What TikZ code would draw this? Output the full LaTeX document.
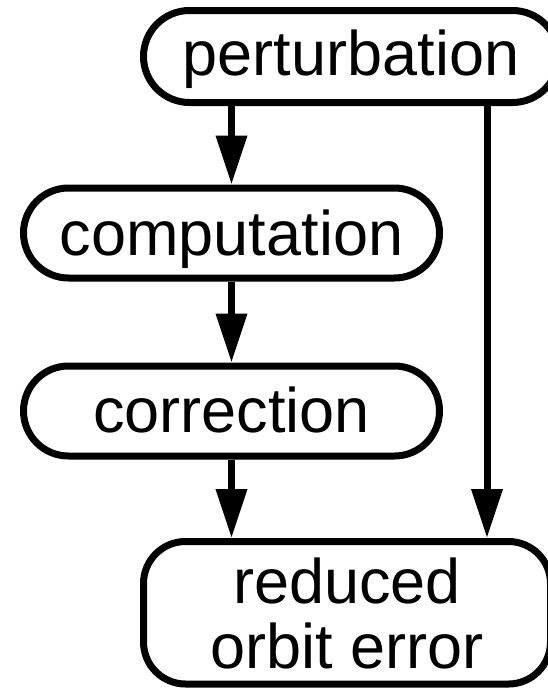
\documentclass[tikz,border=0pt]{standalone}
\usepackage{fontspec}
\setmainfont{Liberation Sans}
\usetikzlibrary{arrows.meta,calc}
\begin{document}
\begin{tikzpicture}[x=1pt,y=-1pt,
  box/.style={draw,line width=7pt,inner sep=0pt,text depth=0pt,
    font=\fontsize{63}{65}\selectfont,align=center},
  arr/.style={line width=7pt,-{Triangle[length=49pt,width=30pt]}}]
\useasboundingbox (0,0) rectangle (547,688);
% process boxes
\node[box,minimum width=415pt,minimum height=92pt,rounded corners=46pt,text height=37pt]
  (pert) at (351,56.5) {perturbation};
\node[box,minimum width=416pt,minimum height=90pt,rounded corners=45pt,text height=44pt]
  (comp) at (231.5,233) {computation};
\node[box,minimum width=416pt,minimum height=90pt,rounded corners=45pt,text height=42pt]
  (corr) at (231.5,411) {correction};
\node[box,minimum width=407pt,minimum height=142.5pt,rounded corners=42pt]
  (red) at (347,612.75) {reduced\\orbit error};
% flow arrows
\draw[arr] (pert.south -| comp.north) -- (comp.north);
\draw[arr] (comp.south) -- (corr.north);
\draw[arr] (corr.south) -- (red.north -| corr.south);
\coordinate (rx) at ($(pert.south)+(136,0)$);
\draw[arr] (rx) -- (rx |- red.north);
\end{tikzpicture}
\end{document}
